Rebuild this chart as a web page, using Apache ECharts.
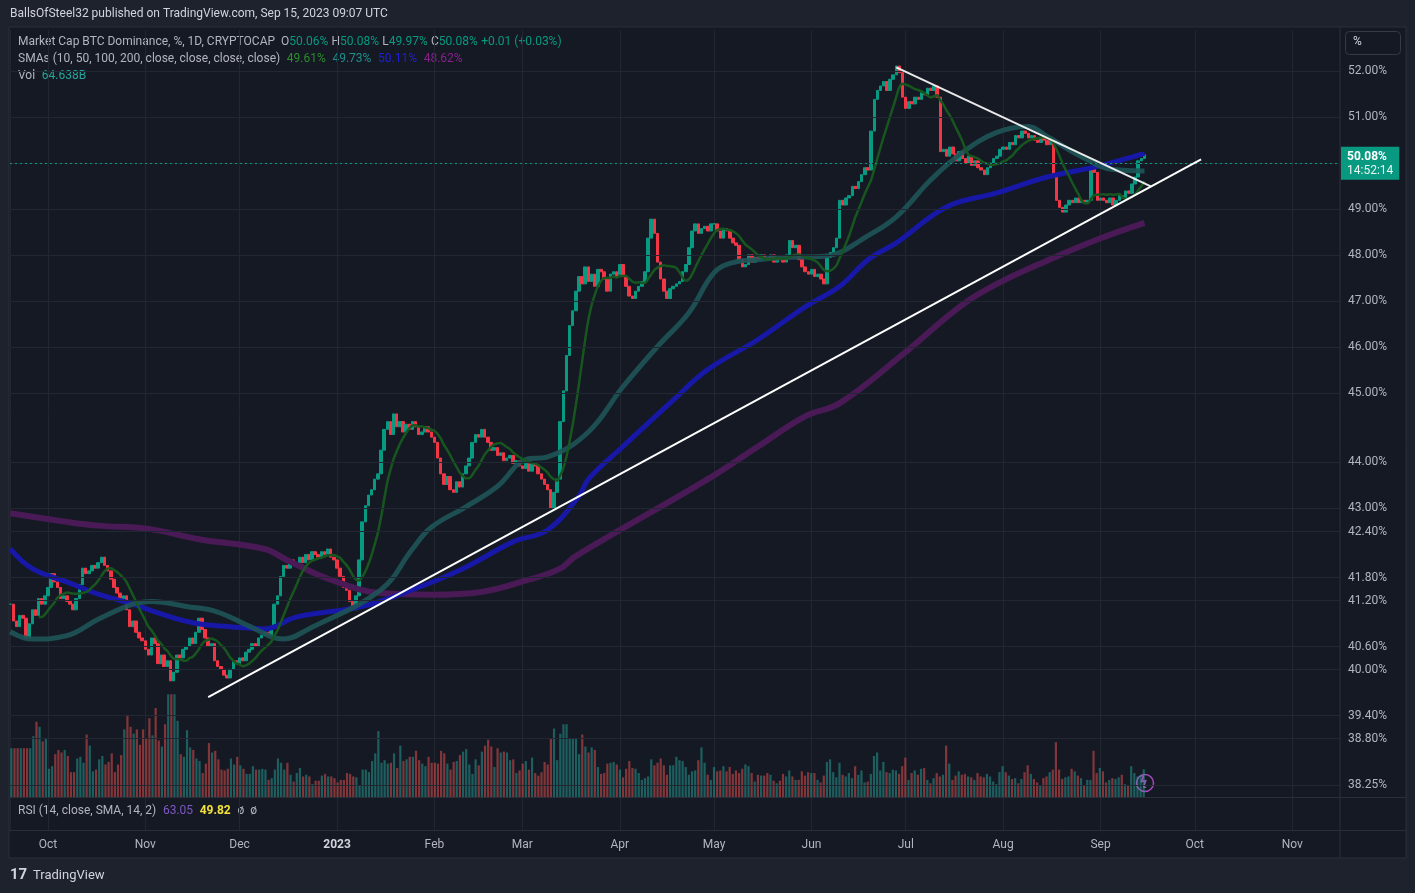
<!DOCTYPE html>
<html>
<head>
<meta charset="utf-8">
<script src="https://cdn.jsdelivr.net/npm/echarts@6/dist/echarts.min.js"></script>
<style>
  html, body { margin: 0; padding: 0; background: #1e222d; }
  #chart { width: 1415px; height: 893px; }
</style>
</head>
<body>
<div id="chart"></div>
<script>
// daily closes (%)
const closeSep22 = [41.2, 40.9, 40.8, 41.0, 40.95, 40.6, 40.85, 41.1, 41.0, 41.3, 41.2, 41.35];
const closeOct22 = [41.5, 41.75, 41.6, 41.5, 41.3, 41.35, 41.25, 41.2, 41.1, 41.3, 41.55, 41.85, 41.75, 41.8, 41.9, 41.85, 41.95, 42.05, 41.9, 41.8, 41.65, 41.5, 41.4, 41.3, 41.35, 41.1, 40.8, 40.9, 40.7, 40.6, 40.55];
const closeNov22 = [40.4, 40.3, 40.6, 40.5, 40.15, 40.3, 40.1, 40.2, 39.85, 40.0, 40.3, 40.25, 40.4, 40.45, 40.6, 40.5, 40.7, 40.95, 40.75, 40.6, 40.45, 40.5, 40.2, 40.1, 40.05, 39.95, 39.9, 40.05, 40.2, 40.15];
const closeDec22 = [40.25, 40.2, 40.35, 40.4, 40.5, 40.45, 40.6, 40.65, 40.7, 40.65, 40.8, 41.2, 41.35, 41.7, 41.9, 41.85, 42.0, 41.9, 41.95, 42.05, 41.95, 42.1, 42.0, 42.15, 42.1, 42.05, 42.15, 42.1, 42.2, 42.05, 42.0];
const closeJan23 = [41.85, 41.7, 41.5, 41.45, 41.25, 41.1, 41.35, 42.0, 42.7, 43.0, 43.2, 43.3, 43.5, 43.6, 44.05, 44.45, 44.6, 44.35, 44.75, 44.5, 44.6, 44.4, 44.55, 44.45, 44.6, 44.5, 44.35, 44.4, 44.5, 44.4, 44.3];
const closeFeb23 = [44.2, 43.9, 43.6, 43.4, 43.55, 43.3, 43.25, 43.45, 43.35, 43.6, 43.75, 43.9, 44.2, 44.35, 44.3, 44.45, 44.3, 44.2, 44.05, 44.1, 43.95, 44.0, 43.85, 43.9, 43.95, 43.8, 43.85, 43.75];
const closeMar23 = [43.7, 43.8, 43.65, 43.8, 43.75, 43.6, 43.5, 43.4, 43.3, 42.95, 43.25, 43.5, 44.6, 45.2, 45.9, 46.5, 46.8, 47.2, 47.5, 47.35, 47.7, 47.4, 47.55, 47.3, 47.65, 47.6, 47.45, 47.2, 47.55, 47.6, 47.5];
const closeApr23 = [47.75, 47.5, 47.3, 47.1, 47.05, 47.2, 47.3, 47.4, 47.6, 48.3, 48.7, 48.4, 47.8, 47.45, 47.2, 47.05, 47.25, 47.3, 47.35, 47.4, 47.6, 47.75, 48.1, 48.45, 48.6, 48.4, 48.5, 48.55, 48.45, 48.6];
const closeMay23 = [48.6, 48.45, 48.3, 48.5, 48.45, 48.3, 48.2, 48.15, 47.85, 47.7, 47.75, 47.95, 47.8, 47.9, 47.85, 47.95, 47.9, 47.85, 47.95, 47.8, 47.9, 47.85, 47.8, 47.95, 48.25, 48.1, 48.15, 47.85, 47.7, 47.6, 47.55];
const closeJun23 = [47.65, 47.5, 47.55, 47.45, 47.35, 47.9, 48.0, 48.1, 48.3, 49.1, 49.0, 49.15, 49.2, 49.4, 49.35, 49.5, 49.65, 49.8, 49.75, 50.6, 51.3, 51.5, 51.6, 51.7, 51.5, 51.75, 51.85, 52.05, 51.9, 51.35];
const closeJul23 = [51.1, 51.25, 51.2, 51.35, 51.3, 51.45, 51.4, 51.55, 51.5, 51.6, 51.35, 50.15, 50.2, 50.05, 50.25, 50.1, 49.95, 50.15, 50.0, 49.9, 50.05, 49.85, 49.95, 49.8, 49.75, 49.65, 49.8, 49.9, 50.0, 50.05, 50.2];
const closeAug23 = [50.25, 50.2, 50.35, 50.3, 50.5, 50.45, 50.6, 50.55, 50.45, 50.5, 50.4, 50.35, 50.45, 50.4, 50.3, 50.4, 49.6, 49.1, 48.95, 48.85, 49.0, 49.1, 49.05, 49.15, 49.05, 49.1, 49.05, 49.1, 49.8, 49.7, 49.1];
const closeSep23 = [49.15, 49.1, 49.05, 49.15, 49.0, 49.1, 49.2, 49.15, 49.3, 49.25, 49.45, 49.6, 49.95, 50.0, 50.08];

// daily volume (B)
const volSep22 = [114, 114, 114, 114, 114, 114, 114, 142, 176, 164, 130, 138];
const volOct22 = [66, 72, 100, 110, 104, 110, 96, 58, 58, 90, 94, 80, 146, 120, 60, 64, 88, 96, 76, 82, 102, 58, 76, 98, 158, 192, 164, 148, 158, 122, 158];
const volNov22 = [136, 184, 144, 208, 132, 118, 170, 240, 240, 240, 178, 100, 94, 156, 116, 110, 90, 84, 56, 78, 126, 104, 108, 88, 64, 62, 66, 90, 76, 94];
const volDec22 = [74, 66, 54, 54, 72, 64, 64, 66, 64, 40, 44, 64, 90, 80, 64, 80, 52, 36, 56, 68, 48, 52, 48, 30, 38, 38, 50, 54, 48, 48, 44];
const volJan23 = [34, 40, 40, 56, 54, 48, 46, 28, 64, 64, 58, 84, 102, 154, 80, 86, 78, 80, 102, 68, 120, 84, 88, 94, 94, 108, 86, 78, 72, 94, 80];
const volFeb23 = [80, 78, 108, 102, 78, 64, 82, 84, 98, 106, 112, 76, 54, 88, 74, 106, 120, 134, 118, 70, 114, 104, 106, 104, 86, 88, 56, 62];
const volMar23 = [78, 84, 64, 92, 56, 50, 58, 82, 76, 136, 160, 86, 148, 170, 170, 138, 136, 138, 100, 146, 118, 104, 116, 110, 70, 54, 56, 78, 80, 82, 76];
const volApr23 = [64, 46, 66, 84, 68, 66, 56, 40, 44, 48, 88, 74, 80, 90, 74, 52, 74, 74, 94, 86, 84, 70, 52, 60, 62, 86, 116, 80, 52, 40];
const volMay23 = [70, 60, 62, 72, 60, 70, 54, 62, 56, 66, 76, 72, 56, 36, 52, 50, 50, 56, 52, 38, 32, 38, 54, 48, 62, 48, 40, 40, 60, 50, 58];
const volJun23 = [56, 56, 40, 34, 50, 82, 88, 58, 46, 80, 52, 48, 56, 44, 72, 52, 62, 34, 36, 54, 96, 104, 62, 82, 58, 56, 64, 62, 54, 72];
const volJul23 = [92, 40, 56, 62, 52, 66, 68, 40, 32, 44, 56, 48, 52, 120, 78, 40, 50, 60, 52, 54, 48, 46, 40, 56, 48, 46, 54, 48, 36, 30, 58];
const volAug23 = [72, 58, 50, 42, 44, 32, 42, 58, 74, 54, 42, 34, 28, 44, 48, 58, 64, 128, 64, 42, 46, 48, 66, 60, 50, 44, 26, 40, 40, 108, 56];
const volSep23 = [68, 60, 34, 40, 44, 42, 46, 52, 30, 28, 72, 56, 48, 52, 64.6];

const segments = [
  ['2022-09-19', closeSep22, volSep22], ['2022-10-01', closeOct22, volOct22],
  ['2022-11-01', closeNov22, volNov22], ['2022-12-01', closeDec22, volDec22],
  ['2023-01-01', closeJan23, volJan23], ['2023-02-01', closeFeb23, volFeb23],
  ['2023-03-01', closeMar23, volMar23], ['2023-04-01', closeApr23, volApr23],
  ['2023-05-01', closeMay23, volMay23], ['2023-06-01', closeJun23, volJun23],
  ['2023-07-01', closeJul23, volJul23], ['2023-08-01', closeAug23, volAug23],
  ['2023-09-01', closeSep23, volSep23]
];

// longer moving averages
const sma50 = [['2022-09-19', 40.71], ['2022-09-26', 40.58], ['2022-10-07', 40.64], ['2022-10-17', 40.93], ['2022-10-28', 41.2], ['2022-11-03', 41.25], ['2022-11-14', 41.16], ['2022-11-24', 41.06], ['2022-12-04', 40.81], ['2022-12-15', 40.58], ['2022-12-23', 40.76], ['2023-01-15', 41.46], ['2023-01-25', 42.2], ['2023-01-31', 42.6], ['2023-02-11', 42.98], ['2023-02-21', 43.36], ['2023-03-02', 43.87], ['2023-03-09', 43.92], ['2023-03-22', 44.4], ['2023-04-02', 45.28], ['2023-04-13', 46.08], ['2023-04-23', 46.76], ['2023-05-01', 47.58], ['2023-05-07', 47.79], ['2023-05-15', 47.85], ['2023-05-25', 47.9], ['2023-06-05', 47.92], ['2023-06-10', 48.0], ['2023-06-17', 48.27], ['2023-06-28', 48.75], ['2023-07-09', 49.54], ['2023-07-19', 50.13], ['2023-07-30', 50.57], ['2023-08-09', 50.7], ['2023-08-15', 50.48], ['2023-08-26', 50.04], ['2023-09-05', 49.76], ['2023-09-15', 49.73]];
const sma100 = [['2022-09-19', 42.2], ['2022-09-26', 41.84], ['2022-10-07', 41.6], ['2022-10-17', 41.38], ['2022-10-28', 41.2], ['2022-11-08', 40.99], ['2022-11-18', 40.85], ['2022-11-28', 40.8], ['2022-12-09', 40.76], ['2022-12-19', 40.97], ['2023-01-09', 41.16], ['2023-01-25', 41.46], ['2023-02-10', 41.84], ['2023-02-26', 42.33], ['2023-03-09', 42.55], ['2023-03-19', 43.18], ['2023-03-22', 43.5], ['2023-04-02', 44.12], ['2023-04-18', 45.02], ['2023-04-29', 45.62], ['2023-05-15', 46.22], ['2023-05-30', 46.88], ['2023-06-10', 47.3], ['2023-06-19', 47.85], ['2023-06-28', 48.2], ['2023-07-14', 48.96], ['2023-07-30', 49.26], ['2023-08-15', 49.6], ['2023-08-31', 49.83], ['2023-09-15', 50.11]];
const sma200 = [['2022-09-19', 42.86], ['2022-10-07', 42.7], ['2022-10-17', 42.63], ['2022-11-02', 42.57], ['2022-11-18', 42.38], ['2022-12-09', 42.2], ['2022-12-16', 42.0], ['2022-12-30', 41.64], ['2023-01-15', 41.4], ['2023-01-31', 41.37], ['2023-02-16', 41.42], ['2023-03-03', 41.64], ['2023-03-13', 41.84], ['2023-03-18', 42.07], ['2023-04-29', 43.5], ['2023-05-15', 44.12], ['2023-05-30', 44.7], ['2023-06-10', 44.96], ['2023-06-30', 45.92], ['2023-07-19', 46.92], ['2023-07-31', 47.38], ['2023-08-15', 47.83], ['2023-08-31', 48.27], ['2023-09-15', 48.62]];

// drawn trend lines
const supportLine = [['2022-11-21', 39.57], ['2023-10-03', 49.98]];
const resistanceLine = [['2023-06-28', 52.02], ['2023-09-17', 49.40]];

const priceTicks = [52, 51, 50, 49, 48, 47, 46, 45, 44, 43, 42.4, 41.8, 41.2, 40.6, 40, 39.4, 38.8, 38.25];
const lastPrice = 50.08;

const DAY = 86400000;
const UP = '#089981', DOWN = '#f23645';
const ln = Math.log;
const ts = s => Date.parse(s);

let rows = [];
segments.forEach(([start, closes, vols]) => {
  const t0 = ts(start);
  closes.forEach((c, i) => rows.push({ t: t0 + i * DAY, c: c, v: vols[i] }));
});

let candleData = [], volData = [], sma10 = [];
rows.forEach((r, i) => {
  const o = i > 0 ? rows[i - 1].c : r.c;
  candleData.push([r.t, ln(o), ln(r.c), ln(Math.min(o, r.c)), ln(Math.max(o, r.c))]);
  volData.push({ value: [r.t, r.v], itemStyle: { color: r.c >= o ? 'rgba(38,166,154,0.5)' : 'rgba(239,83,80,0.5)' } });
  if (i >= 9) {
    let s = 0;
    for (let k = i - 9; k <= i; k++) s += rows[k].c;
    sma10.push([r.t, ln(s / 10)]);
  }
});

const toLog = arr => arr.map(p => [ts(p[0]), ln(p[1])]);
const lineSeg = (arr, style) => [
  { coord: [ts(arr[0][0]), ln(arr[0][1])], lineStyle: style, label: { show: false } },
  { coord: [ts(arr[1][0]), ln(arr[1][1])] }
];

const xMin = ts('2022-09-18') + 22 * 3600000;
const xMax = xMin + 423.3 * DAY;
const font = 'Roboto, "Noto Sans", sans-serif';

const chart = echarts.init(document.getElementById('chart'));
chart.setOption({
  animation: false,
  backgroundColor: 'transparent',
  textStyle: { fontFamily: font },
  grid: [
    { left: 10, right: 75, top: 30, bottom: 96 },
    { left: 10, right: 75, top: 690, bottom: 96 },
    { left: 10, right: 75, top: 798, bottom: 63 }
  ],
  xAxis: [
    { type: 'time', gridIndex: 0, min: xMin, max: xMax, minInterval: 28 * DAY, maxInterval: 31 * DAY,
      axisLine: { show: false }, axisTick: { show: false }, axisLabel: { show: false },
      splitLine: { show: true, lineStyle: { color: '#222631' } } },
    { type: 'time', gridIndex: 1, min: xMin, max: xMax, show: false },
    { type: 'time', gridIndex: 2, min: xMin, max: xMax, minInterval: 28 * DAY, maxInterval: 31 * DAY,
      axisLine: { show: false }, axisTick: { show: false },
      splitLine: { show: true, lineStyle: { color: '#222631' } },
      axisLabel: { color: '#b2b5be', fontSize: 12, margin: 9,
        formatter: { year: '{yr|{yyyy}}', month: '{MMM}', day: '' },
        rich: { yr: { color: '#d1d4dc', fontWeight: 'bold', fontSize: 12 } } } }
  ],
  yAxis: [
    { type: 'value', gridIndex: 0, min: ln(37.89), max: ln(52.87), show: false, splitLine: { show: false } },
    { type: 'value', gridIndex: 1, min: 0, max: 250, show: false, splitLine: { show: false } },
    { type: 'value', gridIndex: 2, min: 0, max: 100, show: false, splitLine: { show: false } }
  ],
  series: [
    { type: 'line', xAxisIndex: 0, yAxisIndex: 0, data: [], silent: true,
      markLine: { silent: true, symbol: 'none', animation: false,
        lineStyle: { color: '#232733', width: 1, type: 'solid' },
        label: { position: 'end', distance: 8, formatter: '{b}', color: '#b2b5be', fontSize: 12, fontFamily: font },
        data: priceTicks.map(v => ({ yAxis: ln(v), name: v.toFixed(2) + '%', label: { show: v !== 50 } })) } },
    { type: 'bar', xAxisIndex: 1, yAxisIndex: 1, data: volData, barWidth: 2.2, silent: true },
    { type: 'line', xAxisIndex: 0, yAxisIndex: 0, data: toLog(sma200), smooth: 0.4, showSymbol: false,
      lineStyle: { color: '#4a1a56', width: 6 }, silent: true },
    { type: 'line', xAxisIndex: 0, yAxisIndex: 0, data: toLog(sma100), smooth: 0.4, showSymbol: false,
      lineStyle: { color: '#1818a8', width: 5 }, silent: true },
    { type: 'line', xAxisIndex: 0, yAxisIndex: 0, data: toLog(sma50), smooth: 0.4, showSymbol: false,
      lineStyle: { color: '#1d5458', width: 5, opacity: 0.9 }, silent: true },
    { type: 'line', xAxisIndex: 0, yAxisIndex: 0, data: sma10, smooth: 0.3, showSymbol: false,
      lineStyle: { color: '#17561f', width: 2.5 }, silent: true },
    { type: 'candlestick', xAxisIndex: 0, yAxisIndex: 0, data: candleData, barWidth: 3,
      encode: { x: 0, y: [1, 2, 3, 4] }, silent: true,
      itemStyle: { color: UP, color0: DOWN, borderColor: UP, borderColor0: DOWN, borderWidth: 1 },
      markLine: { silent: true, symbol: 'none', animation: false,
        data: [
          { yAxis: ln(lastPrice), lineStyle: { color: '#089981', type: [2, 3], width: 1 },
            label: { position: 'end', distance: 1, formatter: '{a|50.08%}\n{b|14:52:14}', backgroundColor: '#089981',
              padding: [3, 6, 2, 6], lineHeight: 14,
              rich: { a: { color: '#fff', fontSize: 12, fontWeight: 'bold', fontFamily: font }, b: { color: '#e8f5f3', fontSize: 12, fontFamily: font } } } },
          lineSeg(supportLine, { color: '#ffffff', width: 2, type: 'solid' }),
          lineSeg(resistanceLine, { color: '#ffffff', width: 2, type: 'solid', opacity: 0.9 })
        ] } },
    { type: 'line', xAxisIndex: 2, yAxisIndex: 2, data: [], silent: true }
  ],
  graphic: [
    { type: 'rect', z: -100, silent: true, shape: { x: 9, y: 27, width: 1397, height: 831 }, style: { fill: '#151924', stroke: '#2a2e39', lineWidth: 1 } },
    { type: 'line', z: -50, silent: true, shape: { x1: 1340, y1: 27, x2: 1340, y2: 858 }, style: { stroke: '#2a2e39', lineWidth: 1 } },
    { type: 'line', z: -50, silent: true, shape: { x1: 9, y1: 797.5, x2: 1406, y2: 797.5 }, style: { stroke: '#2a2e39', lineWidth: 1 } },
    { type: 'line', z: -50, silent: true, shape: { x1: 9, y1: 830.5, x2: 1406, y2: 830.5 }, style: { stroke: '#2a2e39', lineWidth: 1 } },
    { type: 'text', left: 10, top: 8, silent: true, style: { text: 'BallsOfSteel32 published on TradingView.com, Sep 15, 2023 09:07 UTC', fill: '#d1d4dc', font: '12px ' + font } },
    { type: 'text', left: 18, top: 36, silent: true, style: {
      text: '{t|Market Cap BTC Dominance, %, 1D, CRYPTOCAP  O}{v|50.06%} {t|H}{v|50.08%} {t|L}{v|49.97%} {t|C}{v|50.08%} {v|+0.01 (+0.03%)}',
      rich: { t: { fill: '#b2b5be', font: '12px ' + font }, v: { fill: '#089981', font: '12px ' + font } } } },
    { type: 'text', left: 18, top: 53, silent: true, style: {
      text: '{t|SMAs (10, 50, 100, 200, close, close, close, close)}  {a|49.61%}  {b|49.73%}  {c|50.11%}  {d|48.62%}',
      rich: { t: { fill: '#b2b5be', font: '12px ' + font }, a: { fill: '#2e8b2e', font: '12px ' + font }, b: { fill: '#1f8f8a', font: '12px ' + font }, c: { fill: '#2020d0', font: '12px ' + font }, d: { fill: '#8a1f8f', font: '12px ' + font } } } },
    { type: 'text', left: 18, top: 70, silent: true, style: {
      text: '{t|Vol}  {v|64.638B}', rich: { t: { fill: '#b2b5be', font: '12px ' + font }, v: { fill: '#26a69a', font: '12px ' + font } } } },
    { type: 'text', left: 18, top: 805, silent: true, style: {
      text: '{t|RSI (14, close, SMA, 14, 2)}  {a|63.05}  {b|49.82}  {t|ø  ø}',
      rich: { t: { fill: '#b2b5be', font: '12px ' + font }, a: { fill: '#7e57c2', font: '12px ' + font }, b: { fill: '#f5e13b', font: 'bold 12px ' + font } } } },
    { type: 'rect', silent: true, shape: { x: 1345.5, y: 31.5, width: 55, height: 23, r: 4 }, style: { fill: '#151924', stroke: '#363a45', lineWidth: 1 } },
    { type: 'text', left: 1353, top: 36, silent: true, style: { text: '%', fill: '#d1d4dc', font: '12px ' + font } },
    { type: 'circle', silent: true, shape: { cx: 1145, cy: 783, r: 8.5 }, style: { fill: 'transparent', stroke: '#ab47bc', lineWidth: 1.5 } },
    { type: 'text', left: 1140, top: 775, silent: true, style: { text: 'ϟ', fill: '#ab47bc', font: 'bold 13px ' + font } },
    { type: 'text', left: 10, top: 868, silent: true, style: { text: '17', fill: '#d1d4dc', font: 'bold 15px ' + font } },
    { type: 'text', left: 33, top: 869, silent: true, style: { text: 'TradingView', fill: '#d1d4dc', font: '13px ' + font } }
  ]
});
</script>
</body>
</html>
